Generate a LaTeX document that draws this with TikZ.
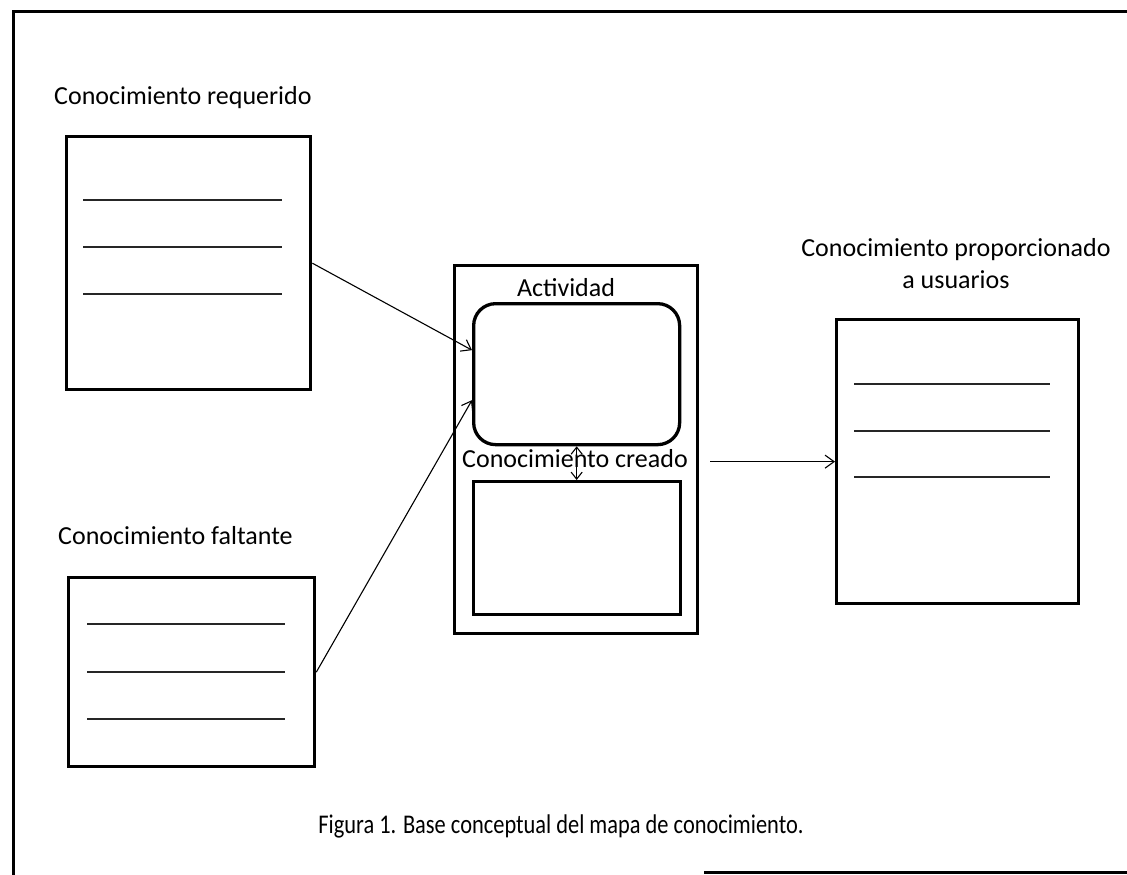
\documentclass[tikz,border=0pt]{standalone}
\usepackage{fontspec}
\setmainfont{Carlito}
\usetikzlibrary{arrows.meta,calc}
\begin{document}
\begin{tikzpicture}[x=1pt,y=-1pt,
  doc/.style={draw,line width=3.3pt,rectangle,inner sep=0pt,anchor=north west},
  rule/.style={line width=1.1pt,draw=black!85},
  arr/.style={line width=1.1pt,-{Straight Barb[length=9pt,width=13pt,line width=1.1pt]}},
  dbl/.style={line width=1.1pt,{Straight Barb[length=7pt,width=11pt,line width=1.1pt]}-{Straight Barb[length=7pt,width=11pt,line width=1.1pt]}},
  lbl/.style={font=\fontsize{26}{32}\selectfont,inner sep=0pt}]
\useasboundingbox (0,0) rectangle (1127,875);
% page frame
\draw[line width=3pt] (1127,12) -- (13,12) -- (13,875);
\draw[line width=3pt] (704,872) -- (1127,872);

% left documents
\node[lbl,anchor=west] (lreq) at (54,98) {Conocimiento requerido};
\node[doc,minimum width=244pt,minimum height=253pt] (req) at (65,135) {};
\foreach \yy in {200,247,294}
  \draw[rule] (83,\yy) -- (282,\yy);

\node[lbl,anchor=west] (lfal) at (58,536) {Conocimiento faltante};
\node[doc,minimum width=246pt,minimum height=189pt] (fal) at (67,576) {};
\foreach \yy in {624,672,719}
  \draw[rule] (87,\yy) -- (285,\yy);

% central activity block
\node[doc,minimum width=243pt,minimum height=368pt] (outer) at (453,264) {};
\node[doc,rounded corners=22pt,minimum width=206pt,minimum height=141pt] (act) at (472,302) {};
\node[lbl] (lact) at (566,288) {Actividad};
\node[doc,minimum width=207pt,minimum height=133pt] (crea) at (472,480) {};
\node[lbl] (lcrea) at (575,459) {Conocimiento creado};
\draw[dbl] (act.south) -- (act.south |- crea.north);

% right document
\node[lbl,align=center] (lprov) at (956,264) {Conocimiento proporcionado\\a usuarios};
\node[doc,minimum width=242pt,minimum height=284pt] (prov) at (835,318) {};
\foreach \yy in {384,431,477}
  \draw[rule] (854,\yy) -- (1050,\yy);

% connectors
\draw[arr] (req.east) -- ($(act.west)+(0,-24)$);
\draw[arr] (fal.east) -- ($(act.west)+(0,26)$);
\draw[arr,shorten <=11pt] (outer.east |- prov.west) -- (prov.west);

% caption
\node[lbl,font=\fontsize{27}{32}\selectfont,xscale=0.83] (cap) at (561,826) {Figura 1. Base conceptual del mapa de conocimiento.};
\end{tikzpicture}
\end{document}
